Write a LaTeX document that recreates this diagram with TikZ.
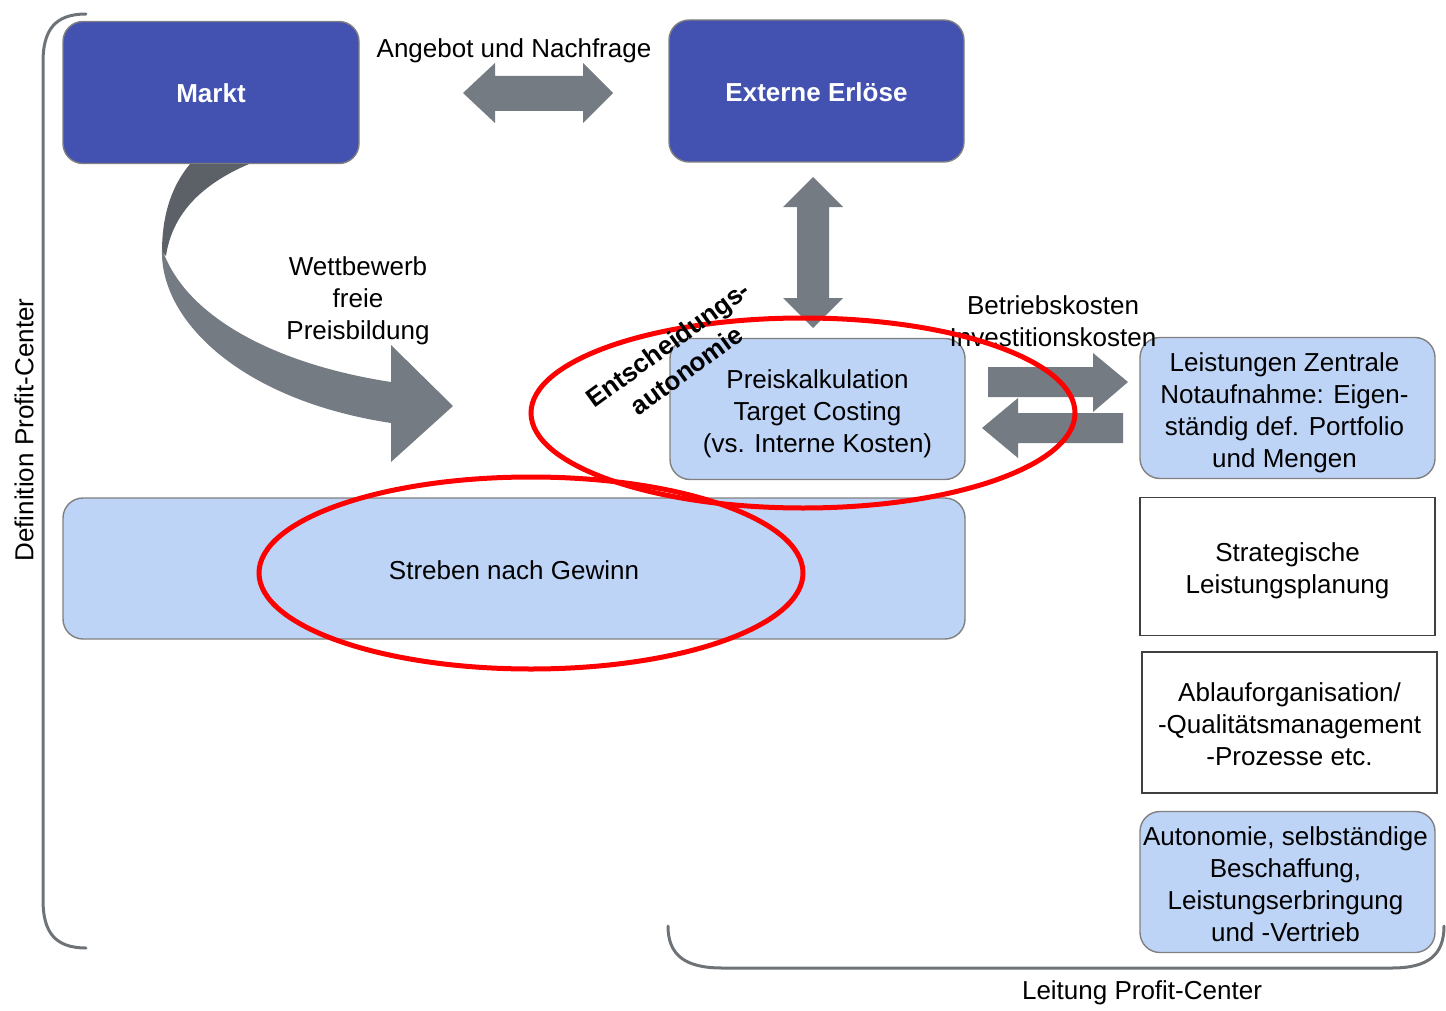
\documentclass[tikz,border=0pt]{standalone}
\usepackage{fontspec}
\setmainfont{Liberation Sans}
\definecolor{dblue}{RGB}{67,82,176}
\definecolor{lblue}{RGB}{190,212,247}
\definecolor{bgray}{RGB}{128,128,128}
\definecolor{agray}{RGB}{116,123,130}
\definecolor{adark}{RGB}{92,97,103}
\definecolor{brgray}{RGB}{110,115,120}
\begin{document}
\begin{tikzpicture}[x=0.5pt,y=-0.5pt,
  every node/.style={font=\fontsize{13}{16}\selectfont, align=center, inner sep=0pt},
  darkbox/.style={draw=bgray, line width=0.7pt, fill=dblue, rounded corners=10pt,
    minimum width=148pt, minimum height=71pt},
  whitebold/.style={text=white, font=\fontsize{13}{16}\selectfont\bfseries},
  lightbox/.style={draw=bgray, line width=0.7pt, fill=lblue, rounded corners=10pt,
    minimum width=147.5pt, minimum height=70.5pt},
  plainbox/.style={draw=black!75, line width=0.6pt, fill=white,
    minimum width=147.5pt, minimum height=69pt},
  blockarrow/.style={fill=agray, draw=none},
  redring/.style={draw=red, line width=2.5pt},
  bracket/.style={draw=brgray, line width=1.5pt, line cap=round}]
\useasboundingbox (0,0) rectangle (1446,1011);

% brackets
\draw[bracket] (86,14) .. controls (55,14) and (43,30) .. (43,62) -- (43,900)
  .. controls (43,932) and (55,948) .. (86,948);
\draw[bracket] (668,926) .. controls (668,955) and (685,968) .. (722,968) -- (1392,968)
  .. controls (1428,968) and (1444,955) .. (1444,926);
\node[rotate=90] (defpc) at (24,430) {Definition Profit-Center};
\node (leitpc) at (1142,993) {Leitung Profit-Center};

% boxes
\node[darkbox] (markt) at (211,92.5) {};
\node[whitebold] (markttext) at ([yshift=-0.5pt]markt.center) {Markt};
\node[darkbox, minimum width=147.5pt] (extern) at (816.5,91) {};
\node[whitebold] (externtext) at ([yshift=-0.5pt]extern.center) {Externe Erlöse};
\node[lightbox] (preis) at (817.5,409) {};
\node (preistext) at ([yshift=-2.5pt]preis.center) {Preiskalkulation\\Target Costing\\(vs. Interne Kosten)};
\node[lightbox, minimum width=451pt] (streben) at (514,568.5) {};
\node (strebentext) at ([yshift=-1pt]streben.center) {Streben nach Gewinn};
\node[lightbox] (leist) at (1287.5,408) {};
\node (leisttext) at ([xshift=-1.5pt,yshift=-2.5pt]leist.center) {Leistungen Zentrale\\Notaufnahme: Eigen-\\ständig def. Portfolio\\und Mengen};
\node[plainbox] (strat) at (1287.5,566.5) {};
\node (strattext) at ([yshift=-2pt]strat.center) {Strategische\\Leistungsplanung};
\node[plainbox, minimum height=70.5pt] (ablauf) at (1289.5,722.5) {};
\node (ablauftext) at ([yshift=-1pt]ablauf.center) {Ablauforganisation/\\-Qualitätsmanagement\\-Prozesse etc.};
\node[lightbox] (auton) at (1287.5,882) {};
\node (autontext) at ([xshift=-1pt,yshift=-1pt]auton.center) {Autonomie, selbständige\\Beschaffung,\\Leistungserbringung\\und -Vertrieb};

% labels
\node (angebot) at (514,51) {Angebot und Nachfrage};
\node (wett) at (358,301) {Wettbewerb\\freie\\Preisbildung};
\node (kosten) at (1053,321) {Betriebskosten\\Investitionskosten};

% horizontal double arrow
\fill[blockarrow] (463,93) -- (495,63) -- (495,76) -- (583,76) -- (583,63) -- (613,93)
  -- (583,123) -- (583,111) -- (495,111) -- (495,123) -- cycle;
% vertical double arrow
\fill[blockarrow] (813,177) -- (843,207) -- (829,207) -- (829,298) -- (843,298) -- (813,328)
  -- (783,298) -- (797,298) -- (797,207) -- (783,207) -- cycle;
% right arrow
\fill[blockarrow] (988,367) -- (1093,367) -- (1093,353) -- (1128,382) -- (1093,412)
  -- (1093,397) -- (988,397) -- cycle;
% left arrow
\fill[blockarrow] (1123,413) -- (1018,413) -- (1018,398) -- (982,428) -- (1018,458)
  -- (1018,443) -- (1123,443) -- cycle;

% curved arrow
\fill[adark] (190,164) .. controls (170,188) and (162,218) .. (162,252)
  -- (166,256) .. controls (172,215) and (200,185) .. (249,164) -- cycle;
\fill[agray] (162,250) .. controls (160,320) and (240,400) .. (391,423)
  -- (391,462) -- (453,406) -- (391,345) -- (391,382)
  .. controls (280,365) and (190,320) .. (164,254) -- cycle;

% red rings
\draw[redring] (803,413) ellipse [x radius=136pt, y radius=47.5pt];
\draw[redring] (531,573) ellipse [x radius=136pt, y radius=48pt];

\node[rotate=36, font=\fontsize{13}{16}\selectfont\bfseries] (entsch) at (677,357) {Entscheidungs-\\autonomie};
\end{tikzpicture}
\end{document}
